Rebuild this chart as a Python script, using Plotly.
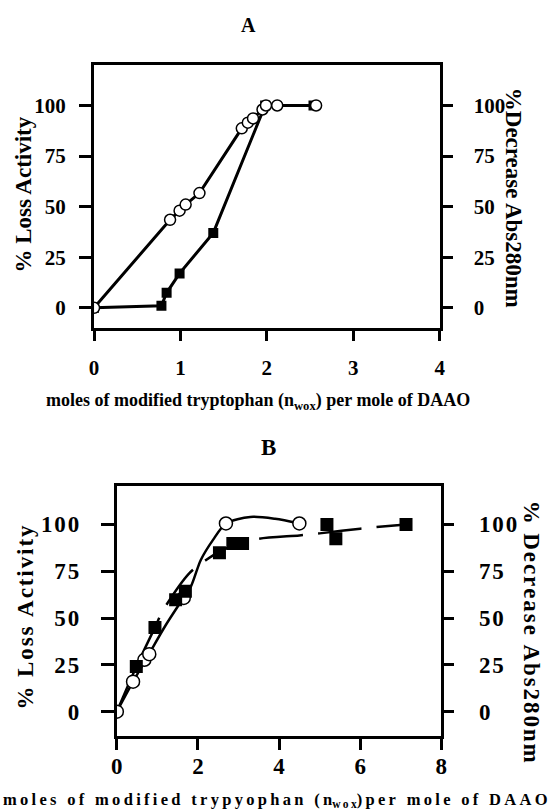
import plotly.graph_objects as go

# ---------------- Panel A data ----------------
a_circ_x = [0, 0.88, 0.99, 1.06, 1.22, 1.71, 1.78, 1.84, 1.95, 1.99, 2.12, 2.57]
a_circ_y = [0, 43.5, 48, 51, 56.7, 88.7, 91.5, 93.6, 98, 100, 100, 100]
a_sq_x = [0, 0.78, 0.84, 0.99, 1.38, 1.98, 2.54]
a_sq_y = [0, 1, 7.4, 17, 37, 100, 100]

# ---------------- Panel B data ----------------
b_circ_x = [0, 0.40, 0.68, 0.80, 1.65, 2.69, 4.50]
b_circ_y = [0, 16, 27.7, 30.7, 60.7, 100.5, 100.5]
b_sq_x = [0.48, 0.94, 1.45, 1.69, 2.53, 2.86, 3.10, 5.18, 5.40, 7.13]
b_sq_y = [24.1, 45, 59.8, 64.3, 84.8, 89.8, 89.8, 100, 92.3, 100]
# hand-drawn fit curves
b_solid_x = [0, 0.40, 0.80, 1.20, 1.65, 1.83, 2.07, 2.38, 2.69, 3.29, 3.90, 4.50]
b_solid_y = [0, 16, 31, 46, 61, 67, 81, 92, 100.5, 104, 103, 100.5]
b_dash_x = [0, 0.48, 0.94, 1.15, 1.79, 2.20, 2.53, 3.00, 3.50, 4.50, 5.00, 6.00, 7.13]
b_dash_y = [0, 24, 45, 54.5, 74, 81, 85.5, 89.5, 92.3, 94.1, 95.2, 97.7, 100]

a_xticks = [0, 1, 2, 3, 4]
b_xticks = [0, 2, 4, 6, 8]
y_ticks = [0, 25, 50, 75, 100]
y_ticktext = ["0", "25", "50", "75", "100"]

FONT = "Liberation Serif"
W, H = 551, 810

def px(x):
    return x / W

def py(y):
    return 1 - y / H

def spaced(s, sep="\u2009"):
    return sep.join(list(s))

fig = go.Figure()

circ_marker = dict(symbol="circle", size=11, color="white", line=dict(color="black", width=1.5))
sq_marker = dict(symbol="square", size=10, color="black")

# Panel A
fig.add_trace(go.Scatter(x=a_sq_x, y=a_sq_y, mode="lines+markers", xaxis="x", yaxis="y",
                         line=dict(color="black", width=3), marker=sq_marker, showlegend=False))
fig.add_trace(go.Scatter(x=a_circ_x, y=a_circ_y, mode="lines+markers", xaxis="x", yaxis="y",
                         line=dict(color="black", width=3), marker=circ_marker, showlegend=False))

# Panel B
fig.add_trace(go.Scatter(x=b_dash_x, y=b_dash_y, mode="lines", xaxis="x2", yaxis="y3",
                         line=dict(color="black", width=2.5, dash="44px,15px", shape="spline", smoothing=0.8),
                         showlegend=False))
fig.add_trace(go.Scatter(x=b_solid_x, y=b_solid_y, mode="lines", xaxis="x2", yaxis="y3",
                         line=dict(color="black", width=2.5, shape="spline", smoothing=0.8),
                         showlegend=False))
fig.add_trace(go.Scatter(x=b_circ_x[1:], y=b_circ_y[1:], mode="markers", xaxis="x2", yaxis="y3",
                         marker=dict(symbol="circle", size=13, color="white", line=dict(color="black", width=1.5)),
                         showlegend=False))
fig.add_trace(go.Scatter(x=b_sq_x, y=b_sq_y, mode="markers", xaxis="x2", yaxis="y3",
                         marker=dict(symbol="square", size=13, color="black"), showlegend=False))
fig.add_trace(go.Scatter(x=b_circ_x[:1], y=b_circ_y[:1], mode="markers", xaxis="x2", yaxis="y3",
                         marker=dict(symbol="circle", size=13, color="white", line=dict(color="black", width=1.5)),
                         showlegend=False))

tickfont = dict(family=FONT, size=21, color="black", weight="bold")
tickfontB = dict(family=FONT, size=23, color="black", weight="bold")
b_ticktext = [spaced(t, "\u200a") for t in y_ticktext]

axis_common = dict(showgrid=False, zeroline=False, showline=True, linecolor="black", linewidth=3,
                   ticks="outside", tickwidth=3, tickcolor="black")

fig.update_layout(
    xaxis=dict(domain=[px(90), px(443.3)], range=[0, 4], tickvals=a_xticks, anchor="y",
               mirror=True, ticklen=10, tickfont=tickfont, ticklabelstandoff=9, **axis_common),
    yaxis=dict(domain=[py(328), py(65)], range=[-10, 120], tickvals=y_ticks, ticktext=y_ticktext,
               anchor="x", mirror=True, ticklen=12, tickfont=tickfont, ticklabelstandoff=9, **axis_common),
    yaxis2=dict(domain=[py(328), py(65)], range=[-10, 120], tickvals=y_ticks, ticktext=y_ticktext,
                anchor="x", overlaying="y", side="right", ticklen=12, tickfont=tickfont, ticklabelstandoff=17,
                **{**axis_common, "showline": False}),
    xaxis2=dict(domain=[px(113.3), px(445)], range=[0, 8], tickvals=b_xticks, anchor="y3",
                mirror=True, ticklen=11, tickfont=tickfontB, ticklabelstandoff=-4, **axis_common),
    yaxis3=dict(domain=[py(736), py(486)], range=[-13, 120.5], tickvals=y_ticks, anchor="x2",
                mirror=True, ticklen=13, tickfont=tickfontB, ticklabelstandoff=17,
                ticktext=b_ticktext, **axis_common),
    yaxis4=dict(domain=[py(736), py(486)], range=[-13, 120.5], tickvals=y_ticks, anchor="x2",
                overlaying="y3", side="right", ticklen=12, tickfont=tickfontB, ticklabelstandoff=20,
                ticktext=b_ticktext, **{**axis_common, "showline": False}),
)

# traces so the right-hand axes are drawn
fig.add_trace(go.Scatter(x=[None], y=[None], xaxis="x", yaxis="y2", showlegend=False))
fig.add_trace(go.Scatter(x=[None], y=[None], xaxis="x2", yaxis="y4", showlegend=False))

def note(text, x, y, size, angle=0):
    return dict(text=text, x=px(x), y=py(y), xref="paper", yref="paper", showarrow=False,
                xanchor="center", yanchor="middle", textangle=angle,
                font=dict(family=FONT, size=size, color="black", weight="bold"))

ann = [
    note("A", 248, 25, 20),
    note("B", 268, 448, 23),
    note("% Loss Activity", 18, 195, 23, -90),
    note("%Decrease Abs280nm", 519, 197.5, 23, 90),
    note("moles of modified tryptophan (n<sub>wox</sub>) per mole of DAAO", 258, 401, 18),
    note(spaced("% Loss Activity", "\u200a"), 19, 617, 23, -90),
    note(spaced("% Decrease Abs280nm", "\u200a"), 538, 632, 23, 90),
    note(spaced("moles of modified trypyophan (n") + "<sub>" + spaced("wox") + "</sub>"
         + spaced(")per mole of DAAO"), 276, 800, 16.5),
]

fig.update_layout(width=W, height=H, margin=dict(l=0, r=0, t=0, b=0), paper_bgcolor="white",
                  plot_bgcolor="white", annotations=ann, showlegend=False)

fig.write_html("out.html")
